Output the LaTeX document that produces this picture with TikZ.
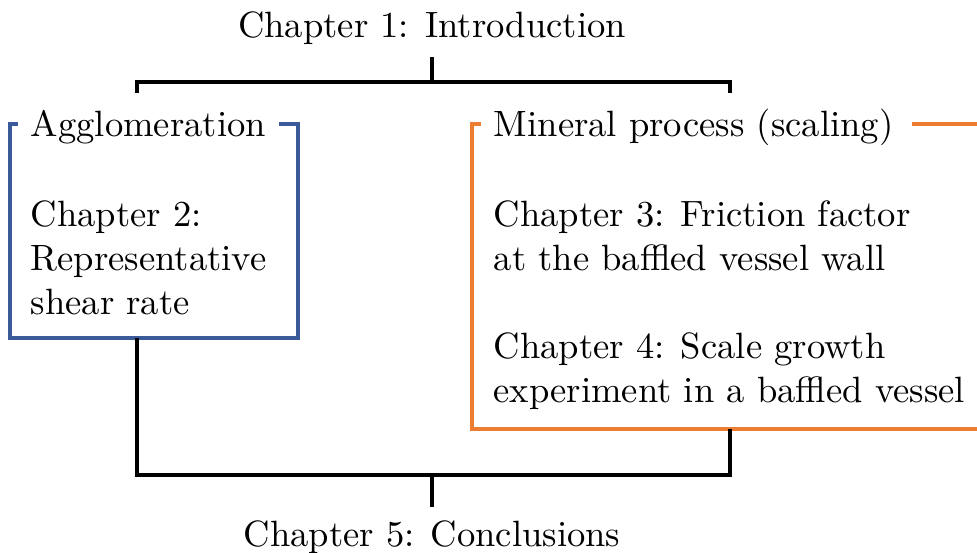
\documentclass[tikz,border=0pt]{standalone}
\usetikzlibrary{calc}
\definecolor{aggblue}{RGB}{59,90,154}
\definecolor{minorange}{RGB}{237,125,49}
\tikzset{
  txt/.style={inner sep=3.33pt, font=\normalsize},
  body/.style={inner sep=0pt, align=left, anchor=north west},
  link/.style={draw=black, line width=1pt},
  groupline/.style={line width=0.95pt},
}
\begin{document}
\begin{tikzpicture}[x=0.2732pt, y=-0.2732pt]
  \useasboundingbox (0,0) rectangle (977,552);
  \clip (0,0) rectangle (977,552);

  % top and bottom chapters
  \node[txt, anchor=base] (ch1) at (432,37) {Chapter 1: Introduction};
  \node[txt, anchor=base] (ch5) at (432,546) {Chapter 5: Conclusions};

  % group titles, set into the top edge of each frame
  \node[txt, anchor=base west] (aggT) at (18,136) {Agglomeration};
  \node[txt, anchor=base west] (minT) at (481,136) {Mineral process (scaling)};

  % group contents
  \node[body] (ch2) at (30,200) {Chapter 2:\\Representative\\shear rate};
  \node[body] (ch34) at (493,200) {Chapter 3: Friction factor\\at the baffled vessel wall\\[\baselineskip]Chapter 4: Scale growth\\experiment in a baffled vessel};

  % frame corners
  \coordinate (aggTL) at (10,124);
  \coordinate (aggBR) at (298,338);
  \coordinate (minTL) at (472,124);
  \coordinate (minBR) at (1000,429);

  % frames
  \draw[groupline, aggblue]
    (aggT.west |- aggTL) -- (aggTL) -- (aggTL |- aggBR) -- (aggBR)
    -- (aggBR |- aggTL) -- (aggT.east |- aggTL);
  \draw[groupline, minorange]
    ([xshift=1.7pt]minT.east |- minTL) -- (minBR |- minTL) -- (minBR)
    -- (minTL |- minBR) -- (minTL) -- (minT.west |- minTL);

  % fork below chapter 1
  \coordinate (fork) at (432,82);
  \coordinate (aggIn) at (137,93);
  \coordinate (minIn) at (730,93);
  \draw[link] (ch1.south) -- (fork);
  \draw[link] (aggIn) |- (fork) -| (minIn);

  % join above chapter 5
  \coordinate (aggOut) at (137,338);
  \coordinate (minOut) at (730,429);
  \coordinate (join) at (432,475);
  \draw[link] (aggOut) |- (join) -| (minOut);
  \draw[link] (join) -- (ch5.north);
\end{tikzpicture}
\end{document}
